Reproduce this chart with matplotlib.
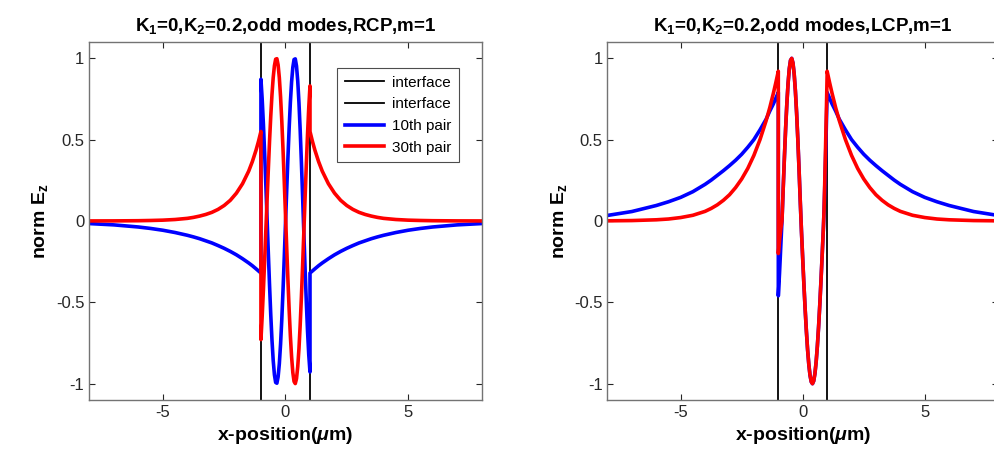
import numpy as np
import matplotlib
matplotlib.use("Agg")
import matplotlib.pyplot as plt

# ---------------- fonts / style (MATLAB look) --------------------------------
plt.rcParams["font.family"] = ["Liberation Sans", "DejaVu Sans"]
plt.rcParams["axes.unicode_minus"] = False
plt.rcParams["mathtext.fontset"] = "custom"
plt.rcParams["mathtext.rm"] = "Liberation Sans:bold"
plt.rcParams["mathtext.bf"] = "Liberation Sans:bold"
plt.rcParams["mathtext.it"] = "Liberation Sans:italic:bold"
plt.rcParams["mathtext.default"] = "rm"

# ---------------- data -------------------------------------------------------
interface_x = [-1.0, 1.0]

# distance from the core centre for the cladding (|x| >= 1)
d_out = [1.0, 1.1, 1.2, 1.35, 1.5, 1.75, 2.0, 2.25, 2.5, 2.75, 3.0, 3.25, 3.5,
         3.75, 4.0, 4.5, 5.0, 5.5, 6.0, 7.0, 8.0]

# RCP panel, cladding field
rcp_blue_out = [-0.320, -0.307, -0.294, -0.275, -0.258, -0.232, -0.208, -0.187, -0.168,
                -0.151, -0.135, -0.122, -0.109, -0.098, -0.088, -0.071, -0.057, -0.046,
                -0.037, -0.024, -0.016]
rcp_red_out = [0.550, 0.489, 0.435, 0.365, 0.306, 0.229, 0.171, 0.127, 0.095,
               0.071, 0.053, 0.040, 0.030, 0.022, 0.016, 0.009, 0.005, 0.003,
               0.0016, 0.0005, 0.0002]

# RCP panel, core field
x_in_rcp = [-1.00, -0.95, -0.90, -0.85, -0.80, -0.75, -0.70, -0.65, -0.60, -0.55,
            -0.50, -0.45, -0.40, -0.35, -0.30, -0.25, -0.20, -0.15, -0.10, -0.05,
            0.00, 0.05, 0.10, 0.15, 0.20, 0.25, 0.30, 0.35, 0.40, 0.45,
            0.50, 0.55, 0.60, 0.65, 0.70, 0.75, 0.80, 0.85, 0.90, 0.95, 1.00]
rcp_blue_in = [0.871, 0.750, 0.596, 0.418, 0.221, 0.014, -0.193, -0.392, -0.575, -0.731,
               -0.857, -0.945, -0.992, -0.997, -0.958, -0.877, -0.757, -0.606, -0.427, -0.229,
               -0.021, 0.187, 0.387, 0.570, 0.729, 0.855, 0.944, 0.992, 0.996, 0.952,
               0.861, 0.727, 0.558, 0.360, 0.146, -0.076, -0.294, -0.497, -0.676, -0.823, -0.928]
rcp_red_in = [-0.729, -0.587, -0.425, -0.246, -0.059, 0.130, 0.314, 0.489, 0.643, 0.776,
              0.881, 0.954, 0.994, 0.997, 0.959, 0.880, 0.763, 0.615, 0.440, 0.247,
              0.043, -0.163, -0.362, -0.545, -0.705, -0.835, -0.931, -0.986, -0.999, -0.969,
              -0.896, -0.785, -0.639, -0.466, -0.271, -0.066, 0.143, 0.345, 0.532, 0.697, 0.830]

# LCP panel, cladding field
lcp_blue_out = [0.790, 0.755, 0.720, 0.675, 0.625, 0.560, 0.500, 0.453, 0.410,
                0.373, 0.340, 0.309, 0.280, 0.251, 0.225, 0.180, 0.145, 0.118,
                0.095, 0.058, 0.034]
lcp_red_out = [0.920, 0.851, 0.786, 0.696, 0.616, 0.500, 0.403, 0.323, 0.258,
               0.205, 0.161, 0.127, 0.099, 0.077, 0.059, 0.035, 0.021, 0.012,
               0.0072, 0.0025, 0.0009]

# LCP panel, core field
x_in_lcp = [-1.00, -0.95, -0.90, -0.85, -0.80, -0.75, -0.70, -0.65, -0.60, -0.55,
            -0.50, -0.45, -0.40, -0.35, -0.30, -0.25, -0.20, -0.15, -0.10, -0.05,
            0.00, 0.05, 0.10, 0.15, 0.20, 0.25, 0.30, 0.35, 0.40, 0.45,
            0.50, 0.55, 0.60, 0.65, 0.70, 0.75, 0.80, 0.85, 0.875, 0.90,
            0.925, 0.95, 0.975, 1.00]
lcp_blue_in = [-0.46, -0.32, -0.16, 0.000, 0.199, 0.391, 0.569, 0.721, 0.845, 0.935,
               0.987, 0.999, 0.971, 0.903, 0.799, 0.663, 0.500, 0.316, 0.119, -0.067,
               -0.233, -0.394, -0.543, -0.676, -0.791, -0.882, -0.949, -0.988, -1.000, -0.983,
               -0.938, -0.866, -0.769, -0.651, -0.514, -0.362, -0.200, -0.033, 0.07, 0.19,
               0.33, 0.47, 0.63, 0.79]
lcp_red_in = [-0.20, -0.12, -0.05, 0.000, 0.199, 0.391, 0.569, 0.721, 0.845, 0.935,
              0.987, 0.999, 0.971, 0.903, 0.799, 0.663, 0.500, 0.316, 0.119, -0.067,
              -0.233, -0.394, -0.543, -0.676, -0.791, -0.882, -0.949, -0.988, -1.000, -0.983,
              -0.938, -0.866, -0.769, -0.651, -0.514, -0.362, -0.200, -0.033, 0.07, 0.22,
              0.38, 0.55, 0.72, 0.90]

xticks = [-5, 0, 5]
yticks = [-1, -0.5, 0, 0.5, 1]
ytick_labels = ["-1", "-0.5", "0", "0.5", "1"]
legend_labels = ["interface", "interface", "10th pair", "30th pair"]
titles = [r"K$_1$=0,K$_2$=0.2,odd modes,RCP,m=1",
          r"K$_1$=0,K$_2$=0.2,odd modes,LCP,m=1"]


def full_profile(x_in, y_in, y_out):
    """Join left cladding + core + right cladding into one curve."""
    d = np.array(d_out)
    x = np.concatenate([-d[::-1], np.array(x_in), d])
    y = np.concatenate([np.array(y_out)[::-1], np.array(y_in), np.array(y_out)])
    return x, y


fig = plt.figure(figsize=(9.95, 4.65), dpi=100)
ax1 = fig.add_axes([0.0897, 0.1398, 0.3944, 0.770])
ax2 = fig.add_axes([0.6105, 0.1398, 0.3925, 0.770])

panels = [
    (ax1, x_in_rcp, rcp_blue_in, rcp_blue_out, rcp_red_in, rcp_red_out),
    (ax2, x_in_lcp, lcp_blue_in, lcp_blue_out, lcp_red_in, lcp_red_out),
]

for k, (ax, xin, bin_, bout, rin, rout) in enumerate(panels):
    handles = []
    for xi in interface_x:
        handles.append(ax.axvline(xi, color="k", lw=1.3))
    xb, yb = full_profile(xin, bin_, bout)
    xr, yr = full_profile(xin, rin, rout)
    handles += ax.plot(xb, yb, color=(0, 0, 1), lw=2.6)
    handles += ax.plot(xr, yr, color=(1, 0, 0), lw=2.6)

    ax.set_xlim(-8, 8)
    ax.set_ylim(-1.1, 1.1)
    ax.set_xticks(xticks)
    ax.set_yticks(yticks)
    ax.set_yticklabels(ytick_labels)
    ax.tick_params(direction="in", top=True, right=True, length=4,
                   labelsize=12, colors="0.15", width=0.8)
    for sp in ax.spines.values():
        sp.set_color("0.45")
        sp.set_linewidth(1.0)
    ax.set_title(titles[k], fontsize=13.5, fontweight="bold", pad=8)
    ax.set_xlabel(r"x-position($\mathit{\mu}$m)", fontsize=14, fontweight="bold")
    ax.set_ylabel(r"norm E$_\mathbf{z}$", fontsize=14, fontweight="bold")

    if k == 0:
        leg = ax.legend(handles, legend_labels, loc="upper right",
                        bbox_to_anchor=(0.962, 0.948), fontsize=11,
                        handlelength=2.6, labelspacing=0.5, borderpad=0.5,
                        handletextpad=0.5, fancybox=False, framealpha=1)
        leg.get_frame().set_edgecolor("0.3")
        leg.get_frame().set_linewidth(0.8)

fig.savefig("out.png", dpi=100)
